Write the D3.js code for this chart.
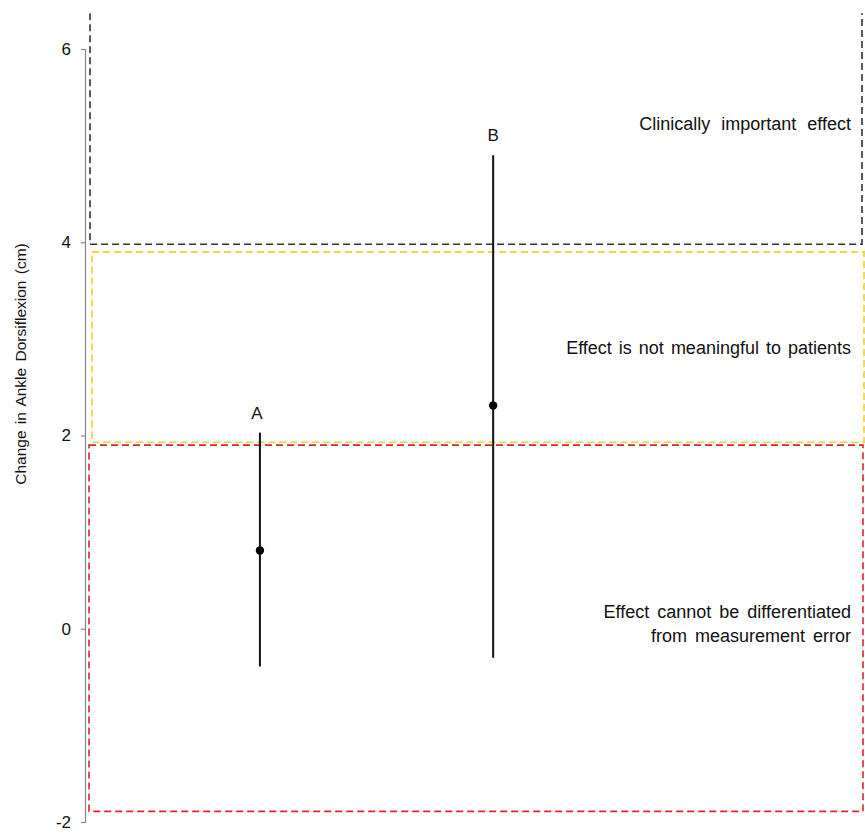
<!DOCTYPE html>
<html>
<head>
<meta charset="utf-8">
<script src="https://cdn.jsdelivr.net/npm/d3@7"></script>
<style>
  body { margin: 0; background: #fff; }
  text { font-family: "Liberation Sans", Arial, sans-serif; fill: #111; }
</style>
</head>
<body>
<div id="chart"></div>
<script>
// study estimates: point value with confidence interval
const studies = ["A", "B"];
const estimates = [0.81, 2.31];
const lowerCI = [-0.39, -0.30];
const upperCI = [2.03, 4.90];

// interpretation zones (value ranges)
const zoneNames = ["Clinically important effect", "Effect is not meaningful to patients", "Effect cannot be differentiated from measurement error"];
const zoneLow = [3.98, 1.93, -1.89];
const zoneHigh = [6.37, 3.90, 1.90];
const zoneColors = ["#333333", "#f2cf2b", "#d9262c"];
const zoneLabelLines = [["Clinically important effect"], ["Effect is not meaningful to patients"], ["Effect cannot be differentiated", "from measurement error"]];
const zoneLabelValue = [5.16, 2.84, 0.11];
const zoneWordSpacing = [6, 2, 3];

const yTicks = [-2, 0, 2, 4, 6];
const yTitle = "Change in Ankle Dorsiflexion (cm)";

const width = 865, height = 835;

const svg = d3.select("#chart").append("svg")
    .attr("width", width)
    .attr("height", height);

const y = d3.scaleLinear().domain([-2, 6]).range([822, 49]);
// study positions along x (study index 1, 2)
const x = d3.scaleLinear().domain([0.25, 3.59]).range([85, 864]);

// zones as dashed boxes
const zoneInset = [5, 7, 4];
const zoneRight = [862, 864, 863];
zoneNames.forEach(function(name, i) {
  const x0 = x.range()[0] + zoneInset[i], x1 = zoneRight[i];
  const y0 = y(zoneHigh[i]), y1 = y(zoneLow[i]);
  let path;
  if (i === 0) {
    // open at the top
    path = `M ${x0} ${y0} L ${x0} ${y1} L ${x1} ${y1} L ${x1} ${y0}`;
  } else {
    path = `M ${x0} ${y0} L ${x1} ${y0} L ${x1} ${y1} L ${x0} ${y1} Z`;
  }
  svg.append("path")
      .attr("d", path)
      .attr("fill", "none")
      .attr("stroke", zoneColors[i])
      .attr("stroke-width", 1.6)
      .attr("stroke-dasharray", "7,4");

  const lines = zoneLabelLines[i];
  const t = svg.append("text")
      .attr("text-anchor", "end")
      .attr("font-size", 18)
      .attr("word-spacing", zoneWordSpacing[i])
      .attr("y", y(zoneLabelValue[i]));
  lines.forEach(function(l, j) {
    t.append("tspan")
        .attr("x", 851)
        .attr("dy", j === 0 ? 0 : 24)
        .text(l);
  });
});

// y axis
const yAxis = d3.axisLeft(y).tickValues(yTicks).tickSize(4).tickPadding(10)
    .tickFormat(d => String(d));
const gy = svg.append("g")
    .attr("transform", "translate(85,0)")
    .call(yAxis);
gy.select(".domain").attr("stroke", "#888").attr("stroke-width", 1.2);
gy.selectAll(".tick line").attr("stroke", "#888").attr("stroke-width", 1.2);
gy.selectAll(".tick text")
    .attr("font-size", 17)
    .attr("fill", "#111")
    .style("font-family", "'Liberation Sans', Arial, sans-serif");

svg.append("text")
    .attr("transform", `translate(26,${(245 + 483) / 2}) rotate(-90)`)
    .attr("text-anchor", "middle")
    .attr("font-size", 15.5)
    .attr("word-spacing", 2)
    .text(yTitle);

// error bars
studies.forEach(function(s, i) {
  const cx = x(i + 1);
  svg.append("line")
      .attr("x1", cx).attr("x2", cx)
      .attr("y1", y(upperCI[i])).attr("y2", y(lowerCI[i]))
      .attr("stroke", "#111")
      .attr("stroke-width", 2);
  svg.append("circle")
      .attr("cx", cx)
      .attr("cy", y(estimates[i]))
      .attr("r", 4.2)
      .attr("fill", "#000");
  svg.append("text")
      .attr("x", cx - 3 * (i === 0 ? 1 : 0))
      .attr("y", y(upperCI[i]) - 14)
      .attr("text-anchor", "middle")
      .attr("font-size", 17)
      .text(s);
});
</script>
</body>
</html>
